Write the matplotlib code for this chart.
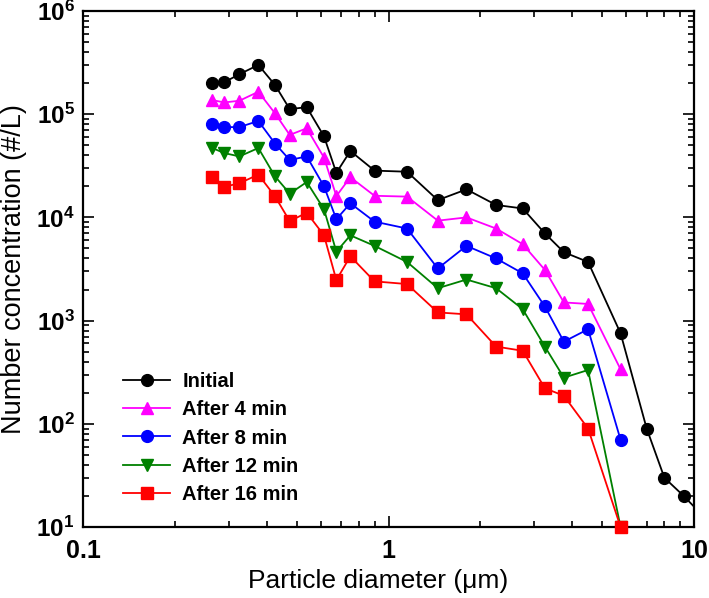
import matplotlib
matplotlib.use("Agg")
import matplotlib.pyplot as plt
from matplotlib.ticker import FixedLocator, NullFormatter, LogLocator

plt.rcParams['font.family'] = ['Liberation Sans', 'DejaVu Sans']
plt.rcParams['mathtext.fontset'] = 'custom'
plt.rcParams['mathtext.rm'] = 'Liberation Sans'
plt.rcParams['mathtext.bf'] = 'Liberation Sans:bold'

diam = [0.265, 0.29, 0.325, 0.375, 0.425, 0.475, 0.54, 0.615, 0.675, 0.75,
        0.9, 1.15, 1.45, 1.8, 2.25, 2.75, 3.25, 3.75, 4.5, 5.75, 7.0, 8.0, 9.25, 11.25]

initial = [1.99e5, 2.04e5, 2.44e5, 3.0e5, 1.92e5, 1.12e5, 1.17e5, 6.1e4, 2.7e4, 4.4e4,
           2.84e4, 2.77e4, 1.47e4, 1.87e4, 1.32e4, 1.22e4, 7.0e3, 4.6e3, 3.7e3, 753,
           90, 30, 20, 11]
after4 = [1.37e5, 1.30e5, 1.35e5, 1.65e5, 1.02e5, 6.3e4, 7.3e4, 3.8e4, 1.61e4, 2.45e4,
          1.62e4, 1.59e4, 9.3e3, 1.0e4, 7.8e3, 5.5e3, 3.1e3, 1.5e3, 1.45e3, 337]
after8 = [8.0e4, 7.5e4, 7.5e4, 8.6e4, 5.2e4, 3.6e4, 3.9e4, 2.0e4, 9.6e3, 1.37e4,
          9.1e3, 7.8e3, 3.2e3, 5.3e3, 4.0e3, 2.87e3, 1.37e3, 625, 825, 70]
after12 = [4.7e4, 4.2e4, 3.9e4, 4.7e4, 2.5e4, 1.7e4, 2.2e4, 1.2e4, 4.65e3, 6.7e3,
           5.3e3, 3.7e3, 2.06e3, 2.5e3, 2.06e3, 1.29e3, 560, 280, 332, 10]
after16 = [2.45e4, 1.98e4, 2.14e4, 2.6e4, 1.6e4, 9.2e3, 1.11e4, 6.7e3, 2.47e3, 4.2e3,
           2.4e3, 2.26e3, 1.2e3, 1.15e3, 560, 510, 221, 187, 90, 10]

labels = ['Initial', 'After 4 min', 'After 8 min', 'After 12 min', 'After 16 min']
colors = ['#000000', '#FF00FF', '#0000FF', '#008000', '#FF0000']
markers = ['o', '^', 'o', 'v', 's']
series = [initial, after4, after8, after12, after16]

xticks = [0.1, 1, 10]
xticklabels = ['0.1', '1', '10']
yticks = [1e1, 1e2, 1e3, 1e4, 1e5, 1e6]
yticklabels = [r'$\mathbf{10^{%d}}$' % e for e in range(1, 7)]

fig = plt.figure(figsize=(7.09, 5.98), dpi=100)
ax = fig.add_axes([83/709, 1-527/598, (694-83)/709, (527-11)/598])

for vals, lab, c, m in zip(series, labels, colors, markers):
    n = len(vals)
    ax.plot(diam[:n], vals, color=c, marker=m, markersize=8.5, linewidth=1.3,
            label=lab, clip_on=(n > 20), zorder=3)

ax.set_xscale('log')
ax.set_yscale('log')
ax.set_xlim(0.1, 10)
ax.set_ylim(10, 1e6)

ax.xaxis.set_major_locator(FixedLocator(xticks))
ax.set_xticklabels(xticklabels)
ax.xaxis.set_minor_locator(LogLocator(base=10, subs=range(2, 10)))
ax.xaxis.set_minor_formatter(NullFormatter())
ax.yaxis.set_major_locator(FixedLocator(yticks))
ax.set_yticklabels(yticklabels)
ax.yaxis.set_minor_locator(LogLocator(base=10, subs=range(2, 10)))
ax.yaxis.set_minor_formatter(NullFormatter())

ax.tick_params(which='both', direction='in', top=True, right=True, width=1.2)
ax.tick_params(which='major', length=8)
ax.tick_params(which='minor', length=4)
ax.tick_params(axis='x', which='major', labelsize=18, pad=9)
ax.tick_params(axis='y', which='major', labelsize=17.5, pad=6)
for lbl in ax.get_xticklabels():
    lbl.set_fontweight('bold')
for sp in ax.spines.values():
    sp.set_linewidth(1.6)

ax.set_xlabel('Particle diameter (\u03bcm)', fontsize=19)
ax.xaxis.set_label_coords((378-83)/611, -(569-527)/516)
ax.set_ylabel('Number concentration (#/L)', fontsize=19.5)
ax.yaxis.set_label_coords(-(83-27)/611, 0.5)

leg = ax.legend(loc='upper left', bbox_to_anchor=(0.0655, 0.300), frameon=False,
                prop={'weight': 'bold', 'size': 14.5}, handlelength=2.34,
                handletextpad=0.6, labelspacing=0.455, borderpad=0, borderaxespad=0)

fig.savefig('out.png', dpi=100)
